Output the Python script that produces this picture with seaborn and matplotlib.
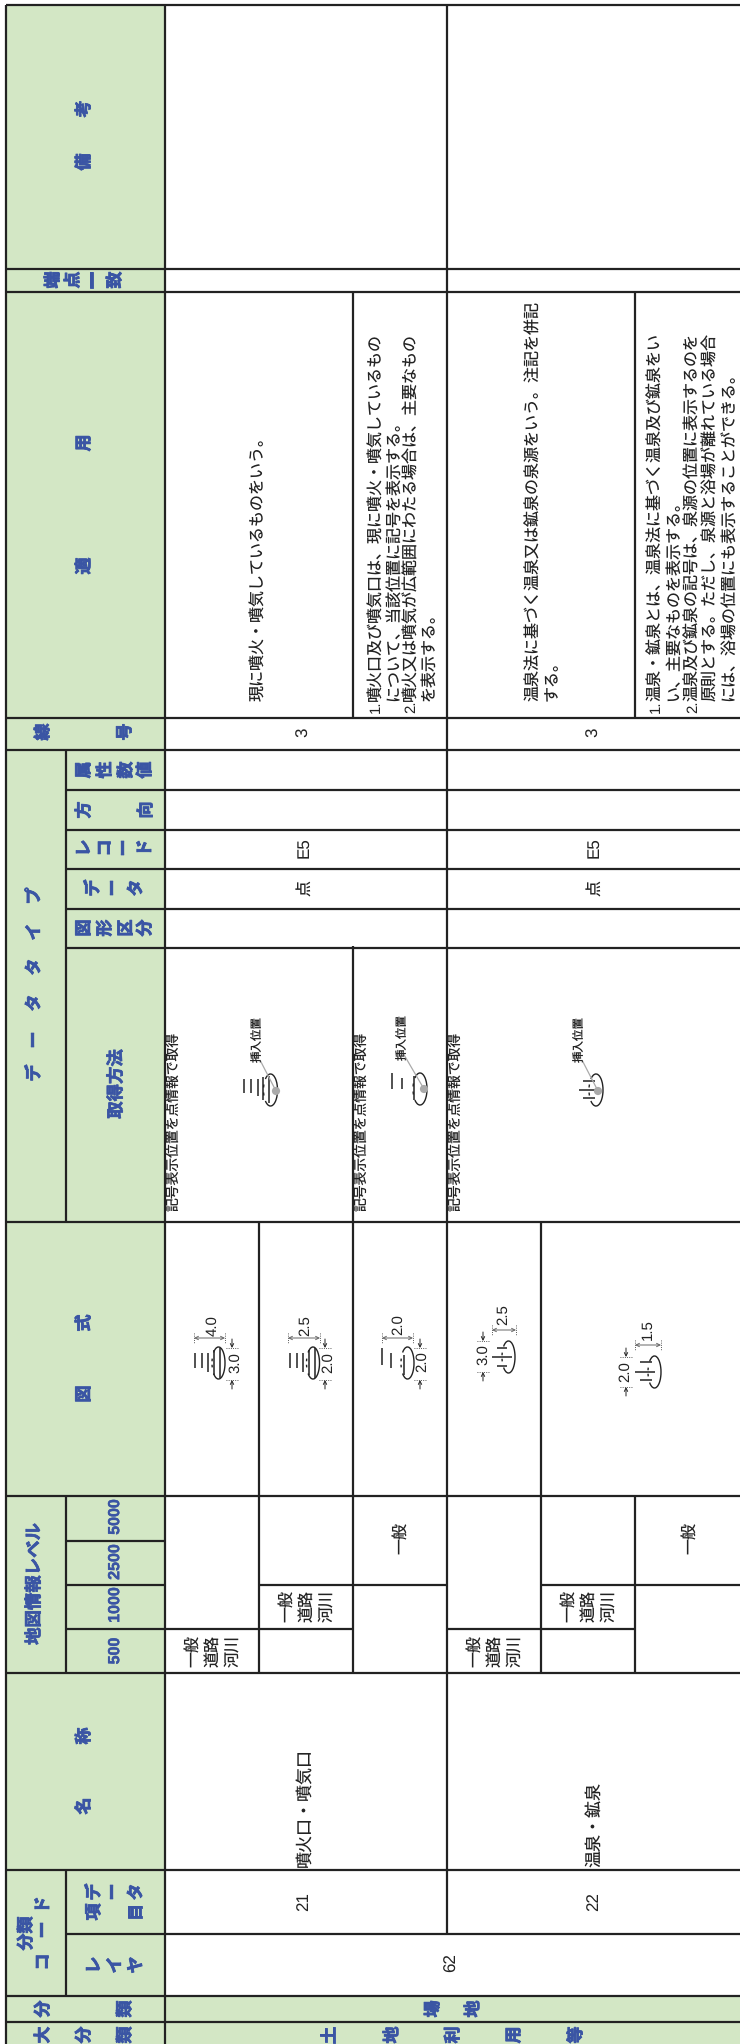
import numpy as np
import pandas as pd
import matplotlib
matplotlib.use('Agg')
import matplotlib.pyplot as plt
import matplotlib.patheffects as pe
from matplotlib.colors import ListedColormap
from matplotlib.patches import Arc, Circle
import seaborn as sns

GREEN = '#d3e7c5'
BLUE = '#3a55a4'
INK = '#222222'
GREY = '#aaaaaa'
JP = ['Noto Sans CJK JP', 'DejaVu Sans']
LATIN = ['Liberation Sans', 'Noto Sans CJK JP']

# table rules in pixels of the page: (position, start, end)
h_rules = [
    (5, 6, 740), (269, 6, 740), (292, 6, 740), (718, 6, 740), (750, 6, 740),
    (790, 66, 740), (830, 66, 740), (869, 66, 740), (909, 66, 740), (948, 66, 740),
    (1222, 6, 740), (1496, 6, 740), (1541, 66, 165), (1585, 66, 165),
    (1585, 259, 447), (1585, 541, 740), (1629, 66, 353), (1629, 447, 635),
    (1673, 6, 740), (1870, 6, 740), (1934, 66, 740), (1996, 6, 740), (2022, 6, 740),
]
v_rules = [
    (6, 5, 2044), (66, 750, 1222), (66, 1496, 1673), (66, 1870, 1996),
    (165, 5, 2044), (259, 1222, 1673), (353, 292, 718), (353, 946, 1673),
    (447, 5, 1934), (541, 1222, 1673), (635, 292, 718), (635, 1496, 1673),
]
green_boxes = [(6, 165, 5, 2044), (165, 740, 1996, 2044)]

# header characters: (text, x, y), drawn one by one with their wide spacing
header_chars = [
    ('考', 84, 109), ('備', 84, 162), ('端', 53, 280), ('点', 73, 280), ('一', 93, 280), ('致', 115, 280),
    ('用', 84, 443), ('適', 84, 566), ('線', 43, 732), ('号', 125, 732),
    ('デ', 34, 1073), ('ー', 34, 1040), ('タ', 34, 1003), ('タ', 34, 967), ('イ', 34, 932), ('プ', 34, 896),
    ('属', 84, 770), ('性', 105, 770), ('数', 126, 770), ('値', 145, 770),
    ('方', 84, 810), ('向', 146, 810),
    ('レ', 84, 848), ('コ', 105, 848), ('ー', 124, 848), ('ド', 145, 848),
    ('デ', 93, 888), ('ー', 113, 888), ('タ', 136, 888),
    ('図', 84, 928), ('形', 105, 928), ('区', 126, 928), ('分', 145, 928),
    ('式', 84, 1323), ('図', 84, 1394), ('称', 84, 1736), ('名', 84, 1806),
    ('分', 26, 1942), ('類', 26, 1925), ('ド', 43, 1905), ('ー', 43, 1930), ('コ', 43, 1962),
    ('デ', 94, 1892), ('ー', 113, 1892), ('タ', 136, 1892), ('項', 94, 1912), ('目', 136, 1912),
    ('レ', 94, 1965), ('イ', 115, 1965), ('ヤ', 136, 1965),
    ('分', 43, 2009), ('類', 125, 2009), ('場', 433, 2009), ('地', 473, 2009),
    ('大', 43, 2035), ('分', 84, 2035), ('類', 125, 2035),
    ('土', 329, 2035), ('地', 392, 2035), ('利', 453, 2035), ('用', 514, 2035), ('等', 576, 2035),
]
header_strings = [('取得方法', 116, 1084), ('地図情報レベル', 34, 1584)]
scale_levels = [('5000', 115, 1517), ('2500', 115, 1562), ('1000', 115, 1605), ('500', 115, 1651)]

# body text lines: (text, x, bottom of line)
usage_lines = [
    ('現に噴火・噴気しているものをいう。', 259, 701),
    ('噴火口及び噴気口は、現に噴火・噴気しているもの', 376, 701),
    ('について、当該位置に記号を表示する。', 394, 701),
    ('噴火又は噴気が広範囲にわたる場合は、主要なもの', 411, 701),
    ('を表示する。', 429, 701),
    ('温泉法に基づく温泉又は鉱泉の泉源をいう。注記を併記', 533, 701),
    ('する。', 552, 701),
    ('温泉・鉱泉とは、温泉法に基づく温泉及び鉱泉をい', 656, 701),
    ('い、主要なものを表示する。', 674, 701),
    ('温泉及び鉱泉の記号は、泉源の位置に表示するのを', 693, 701),
    ('原則とする。ただし、泉源と浴場が離れている場合', 711, 701),
    ('には、浴場の位置にも表示することができる。', 729, 701),
]
list_numbers = [('1.', 376), ('2.', 411), ('1.', 656), ('2.', 693)]
codes = [('3', 304, 732), ('3', 594, 732), ('E5', 304, 848), ('E5', 594, 848),
         ('21', 304, 1902), ('22', 594, 1902), ('62', 452, 1963)]
point_marks = [('点', 305, 888), ('点', 595, 888)]
method_note = '記号表示位置を点情報で取得'
method_x = [174, 362, 456]
names = [('噴火口・噴気口', 305), ('温泉・鉱泉', 595)]
general_only = [401, 690]
three_line_cells = [(193, 1651), (287, 1606), (475, 1651), (569, 1606)]
three_lines = ['一般', '道路', '河川']

# symbols: line x / y spans, ellipse box, then the size labels
crater_wide = [(244, 1079, 1093), (251, 1079, 1093), (258, 1079, 1096), (263, 1077, 1100), (269, 1076, 1103)]
crater_small = [(392, 1073, 1089), (402, 1078, 1089), (414, 1076, 1100)]
onsen_pick = [(1081, 583, 595), (1090, 579, 598), (1098, 583, 595)]
pick_arcs = [(270.5, 1090), (420, 1089), (596, 1090)]
pick_dots = [(276, 1091), (424, 1089), (598, 1091)]
pick_leaders = [(260, 1060), (403, 1053), (582, 1060)]
pick_labels = [(258, 1039), (403, 1037), (580, 1039)]

style_lines = [
    [(195, 1353, 1368), (202, 1353, 1368), (208, 1353, 1372), (214, 1350, 1375), (220, 1348, 1378)],
    [(290, 1353, 1368), (297, 1353, 1368), (303, 1353, 1372), (309, 1350, 1375), (315, 1348, 1378)],
    [(382, 1348, 1365), (391, 1353, 1368), (404, 1355, 1375)],
]
style_arcs = [(218.5, 1363), (313, 1363), (407.5, 1363)]
style_lines_h = [
    [(1348, 497, 507), (1357, 492, 512), (1366, 497, 507)],
    [(1362, 640, 652), (1372, 635, 655), (1380, 640, 652)],
]
style_arcs_h = [(508.5, 1357), (654.5, 1372)]
width_dims = [('4.0', 213, 1326, 194, 225, 1338), ('2.5', 305, 1326, 288, 320, 1338), ('2.0', 398, 1325, 382, 413, 1338),
              ('2.5', 503, 1315, 492, 516, 1330), ('1.5', 648, 1330, 635, 661, 1345)]
height_dims = [('3.0', 235, 1363, 232, 1348, 1380), ('2.0', 328, 1363, 325, 1348, 1380), ('2.0', 422, 1362, 420, 1348, 1380),
               ('3.0', 483, 1355, 483, 1341, 1372), ('2.0', 625, 1372, 626, 1357, 1387)]


def draw_segments(ax, segs, color=INK, lw=1.5, **kws):
    # every segment is its own unit so seaborn keeps them apart
    rows = []
    for i, (x0, y0, x1, y1) in enumerate(segs):
        rows.append({'seg': i, 'x': x0, 'y': y0})
        rows.append({'seg': i, 'x': x1, 'y': y1})
    sns.lineplot(data=pd.DataFrame(rows), x='x', y='y', units='seg', estimator=None, sort=False,
                 color=color, linewidth=lw, legend=False, ax=ax, solid_capstyle='butt', **kws)


def vtext(ax, x, y, s, size, va='center', family=JP, color=INK, weight='normal', stroke=0):
    t = ax.text(x, y, s, rotation=90, ha='center', va=va, fontsize=size * 0.72, family=family,
                color=color, fontweight=weight)
    if stroke:
        # the header type is heavier than the bold face
        t.set_path_effects([pe.withStroke(linewidth=stroke, foreground=color)])


sns.set_theme(style='white')
plt.rcParams['font.family'] = JP
plt.rcParams['axes.unicode_minus'] = False
plt.rcParams['text.hinting'] = 'none'

fig = plt.figure(figsize=(7.4, 20.44), dpi=100)
ax = fig.add_axes([0, 0, 1, 1])

mask = np.zeros((2044, 740))
for x0, x1, y0, y1 in green_boxes:
    mask[y0:y1, x0:x1] = 1
sns.heatmap(mask, cmap=ListedColormap(['white', GREEN]), vmin=0, vmax=1, cbar=False,
            xticklabels=False, yticklabels=False, ax=ax)

draw_segments(ax, [(x0, y, x1, y) for y, x0, x1 in h_rules] + [(x, y0, x, y1) for x, y0, y1 in v_rules], lw=1.6)

# headers
for s, x, y in header_chars:
    vtext(ax, x, y, s, 17, color=BLUE, weight='bold', stroke=0.6)
for s, x, y in header_strings:
    vtext(ax, x, y, s, 17.4, color=BLUE, weight='bold', stroke=0.5)
for s, x, y in scale_levels:
    vtext(ax, x, y, s, 16, family=LATIN, color=BLUE, weight='bold', stroke=0.3)

# body
for s, x, y in usage_lines:
    vtext(ax, x, y, s, 16, va='bottom')
for s, x in list_numbers:
    vtext(ax, x, 713, s, 15, va='bottom', family=LATIN)
for s, x, y in codes:
    vtext(ax, x, y, s, 17, family=LATIN)
for s, x, y in point_marks:
    vtext(ax, x, y, s, 16)
for x in method_x:
    vtext(ax, x, 1211, method_note, 13.8, va='bottom')
for s, x in names:
    vtext(ax, x, 1867, s, 17, va='bottom')
for x in general_only:
    vtext(ax, x, 1538, '一般', 16)
for x, y in three_line_cells:
    for k, s in enumerate(three_lines):
        vtext(ax, x + k * 20, y, s, 16)

# symbols in the acquisition column
draw_segments(ax, [(x, a, x, b) for x, a, b in crater_wide + crater_small], lw=1.1)
draw_segments(ax, [(a, y, b, y) for y, a, b in onsen_pick], lw=1.1)
for cx, cy in pick_arcs:
    ax.add_patch(Arc((cx, cy), 14, 32, theta1=-115, theta2=115, color=INK, lw=1.0))
    ax.add_patch(Arc((cx, cy), 14, 32, theta1=140, theta2=160, color=INK, lw=1.0))
    ax.add_patch(Arc((cx, cy), 14, 32, theta1=200, theta2=220, color=INK, lw=1.0))
leaders = [(d[0], d[1], l[0], l[1]) for d, l in zip(pick_dots, pick_leaders)]
draw_segments(ax, leaders, color=GREY, lw=0.9)
for x, y in pick_dots:
    ax.add_patch(Circle((x, y), 3.4, color=GREY, zorder=4))
for x, y in pick_labels:
    vtext(ax, x, y, '挿入位置', 11.5)

# symbols in the style column
draw_segments(ax, [(x, a, x, b) for group in style_lines for x, a, b in group], lw=1.1)
draw_segments(ax, [(a, y, b, y) for group in style_lines_h for y, a, b in group], lw=1.1)
for cx, cy in style_arcs + style_arcs_h:
    ax.add_patch(Arc((cx, cy), 13, 32, theta1=-115, theta2=115, color=INK, lw=1.0))
    ax.add_patch(Arc((cx, cy), 13, 32, theta1=145, theta2=165, color=INK, lw=1.0))
    ax.add_patch(Arc((cx, cy), 13, 32, theta1=195, theta2=215, color=INK, lw=1.0))

arrow = dict(arrowstyle='->', color=INK, lw=0.7, mutation_scale=6, shrinkA=0, shrinkB=0)
dotted = []
for s, tx, ty, x0, x1, y in width_dims:
    vtext(ax, tx, ty, s, 15, family=LATIN)
    ax.annotate('', xy=(x0, y), xytext=(x1, y), arrowprops=dict(arrow, arrowstyle='<->', color='#666666'))
    dotted += [(x0, y - 5, x0, y + 5), (x1, y - 5, x1, y + 5)]
for s, tx, ty, x, y0, y1 in height_dims:
    vtext(ax, tx, ty, s, 15, family=LATIN)
    ax.annotate('', xy=(x, y0), xytext=(x, y0 - 9), arrowprops=arrow)
    ax.annotate('', xy=(x, y1), xytext=(x, y1 + 9), arrowprops=arrow)
    dotted += [(x - 6, y0, x + 6, y0), (x - 6, y1, x + 6, y1)]
draw_segments(ax, dotted, lw=0.6, linestyle=':')

ax.set_xlim(0, 740)
ax.set_ylim(2044, 0)
ax.axis('off')
fig.savefig('out.png', dpi=100)
